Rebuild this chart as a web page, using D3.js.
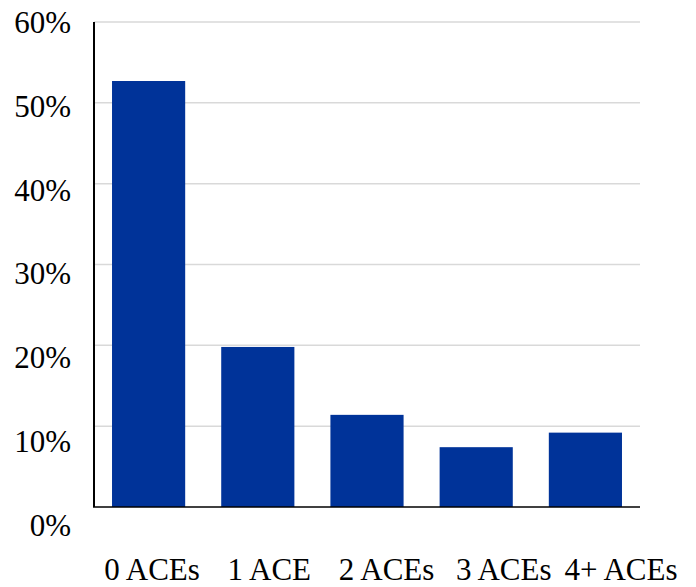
<!DOCTYPE html>
<html>
<head>
<meta charset="utf-8">
<script src="https://cdn.jsdelivr.net/npm/d3@7"></script>
<style>
  html, body { margin: 0; padding: 0; background: #fff; }
  svg { display: block; }
</style>
</head>
<body>
<svg id="chart" width="696" height="587"></svg>
<script>
const categories = ["0 ACEs", "1 ACE", "2 ACEs", "3 ACEs", "4+ ACEs"];
const values = [52.7, 19.8, 11.4, 7.4, 9.2];
const yTicks = [0, 10, 20, 30, 40, 50, 60];
const yTickLabels = ["0%", "10%", "20%", "30%", "40%", "50%", "60%"];

(function () {
const FONT = "'Liberation Serif', 'Times New Roman', Times, 'DejaVu Serif', serif";
const svg = d3.select("#chart");
const pLeft = 94, pRight = 640, pTop = 22, pBottom = 507;

const x = d3.scaleBand().domain(categories).range([pLeft, pRight]).paddingInner(0.33).paddingOuter(0.165);
const y = d3.scaleLinear().domain([0, 60]).range([pBottom, pTop]);

// label scales (labels in the reference are spaced slightly differently from the plot)
const xLab = d3.scaleBand().domain(categories).range([93.4, 679.6]);
const yLab = d3.scaleLinear().domain([0, 60]).range([525, 22.5]);

// gridlines
svg.append("g")
  .selectAll("line")
  .data(yTicks.filter(d => d > 0))
  .join("line")
  .attr("x1", pLeft).attr("x2", pRight)
  .attr("y1", d => y(d)).attr("y2", d => y(d))
  .attr("stroke", "#d9d9d9").attr("stroke-width", 1.5);

// bars
svg.append("g")
  .selectAll("rect")
  .data(values)
  .join("rect")
  .attr("x", (d, i) => x(categories[i]))
  .attr("width", x.bandwidth())
  .attr("y", d => y(d))
  .attr("height", d => y(0) - y(d))
  .attr("fill", "#003399");

// axes lines
svg.append("line")
  .attr("x1", pLeft).attr("x2", pLeft)
  .attr("y1", pTop).attr("y2", pBottom)
  .attr("stroke", "#000").attr("stroke-width", 2);
svg.append("line")
  .attr("x1", pLeft - 1).attr("x2", pRight)
  .attr("y1", pBottom).attr("y2", pBottom)
  .attr("stroke", "#000").attr("stroke-width", 1.6);

// y labels
const yAxis = d3.axisLeft(yLab).tickValues(yTicks).tickSize(0).tickPadding(0)
  .tickFormat((d, i) => yTickLabels[i]);
const gy = svg.append("g").attr("transform", "translate(71,0)").call(yAxis);
gy.select(".domain").remove();
gy.attr("font-family", null).style("font-family", FONT);
gy.selectAll("text")
  .style("font-family", FONT)
  .style("font-size", "31px")
  .attr("fill", "#000")
  .attr("dy", "0.33em");

// x labels
const xAxis = d3.axisBottom(xLab).tickSize(0).tickPadding(0);
const gx = svg.append("g").attr("transform", "translate(0,580)").call(xAxis);
gx.select(".domain").remove();
gx.attr("font-family", null).style("font-family", FONT);
gx.selectAll("text")
  .style("font-family", FONT)
  .style("font-size", "31px")
  .attr("fill", "#000")
  .attr("y", 0)
  .attr("dy", "0");
})();
</script>
</body>
</html>
